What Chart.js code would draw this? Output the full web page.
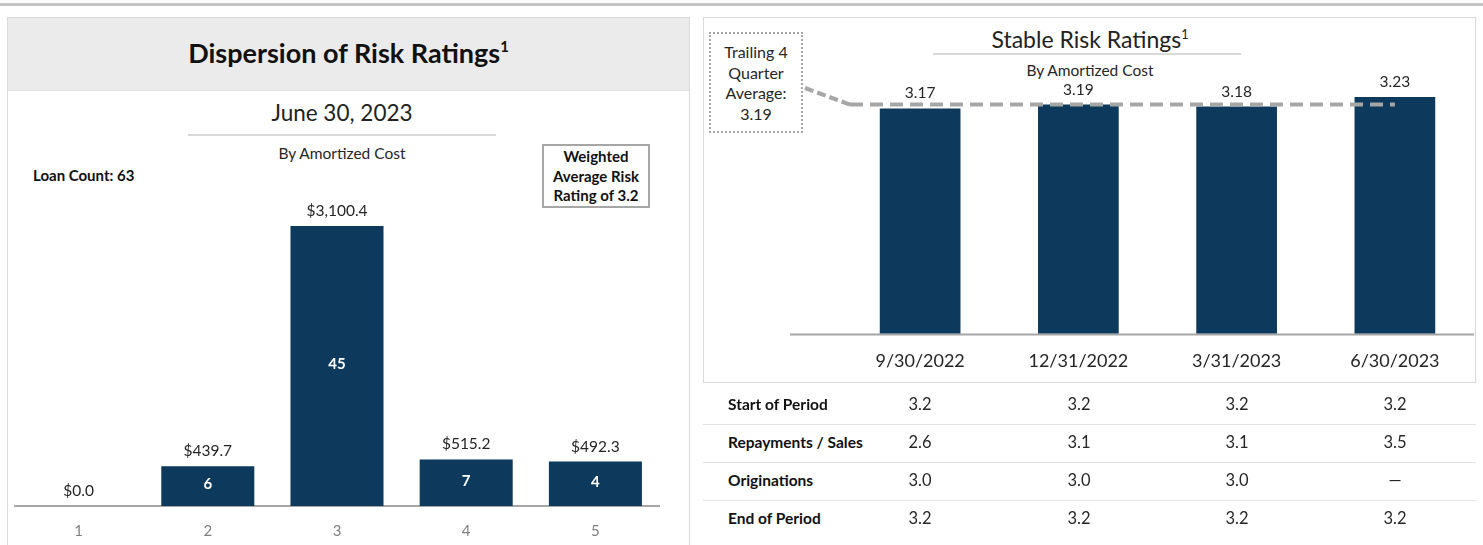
<!DOCTYPE html>
<html>
<head>
<meta charset="utf-8">
<script src="https://cdn.jsdelivr.net/npm/chart.js@4.4.0/dist/chart.umd.min.js"></script>
<style>
  html, body { margin: 0; padding: 0; background: #fff; }
  body { width: 1483px; height: 545px; position: relative; overflow: hidden;
         font-family: Lato, "Open Sans", sans-serif; color: #262626; }
  .abs { position: absolute; }
  .center { text-align: center; white-space: nowrap; }
  sup { font-size: 0.55em; vertical-align: 0; position: relative; top: -0.75em; }
  #topRule { left: 0; top: 3px; width: 1483px; height: 3px; background: #c4c4c4; }
  #leftPanel { left: 7px; top: 17px; width: 683px; height: 560px; border: 1px solid #d9d9d9; box-sizing: border-box; }
  #leftHeader { left: 8px; top: 18px; width: 681px; height: 72px; background: #ebebeb; border-bottom: 1px solid #e2e2e2; }
  #leftTitle { left: 8px; width: 681px; top: 36px; font-size: 27px; font-weight: 700; color: #111; }
  #leftDate { left: 190px; width: 304px; top: 99px; font-size: 22.5px; color: #222; }
  #leftRule { left: 188px; top: 134px; width: 308px; height: 2px; background: #d9d9d9; }
  #leftSub { left: 190px; width: 304px; top: 144px; font-size: 15.5px; }
  #loanCount { left: 33px; top: 166px; font-size: 15px; font-weight: 700; color: #111; }
  #wavgBox { left: 542px; top: 144px; width: 108px; height: 64px; border: 2px solid #a6a6a6; box-sizing: border-box;
             font-size: 15px; font-weight: 700; line-height: 19.5px; padding-top: 1px; color: #111; }
  #leftCanvasWrap { left: 14px; top: 190px; width: 646px; height: 372px; }
  #rightPanel { left: 703px; top: 17px; width: 773px; height: 366px; border: 1px solid #d9d9d9; box-sizing: border-box; }
  #rightTitle { left: 940px; width: 300px; top: 25px; font-size: 23px; color: #222; }
  #rightRule { left: 933px; top: 53px; width: 308px; height: 2px; background: #d9d9d9; }
  #rightSub { left: 940px; width: 300px; top: 61px; font-size: 15.5px; }
  #trailBox { left: 709px; top: 32px; width: 94px; height: 101px; border: 2px dotted #a6a6a6; box-sizing: border-box;
              font-size: 16px; line-height: 20.5px; padding-top: 8px; }
  #rightCanvasWrap { left: 706px; top: 45px; width: 770px; height: 354px; }
  .rowSep { position: absolute; left: 703px; width: 773px; height: 1px; background: #e3e3e3; }
  .rowLabel { position: absolute; left: 728px; font-size: 15.5px; font-weight: 700; color: #111; }
  .cell { position: absolute; width: 100px; text-align: center; font-size: 16.5px; color: #262626; }
</style>
</head>
<body>
<div id="topRule" class="abs"></div>

<div id="leftPanel" class="abs"></div>
<div id="leftHeader" class="abs"></div>
<div id="leftTitle" class="abs center">Dispersion of Risk Ratings<sup>1</sup></div>
<div id="leftDate" class="abs center">June 30, 2023</div>
<div id="leftRule" class="abs"></div>
<div id="leftSub" class="abs center">By Amortized Cost</div>
<div id="loanCount" class="abs">Loan Count: 63</div>
<div id="wavgBox" class="abs center">Weighted<br>Average Risk<br>Rating of 3.2</div>
<div id="leftCanvasWrap" class="abs"><canvas id="dispersionChart"></canvas></div>

<div id="rightPanel" class="abs"></div>
<div id="rightTitle" class="abs center">Stable Risk Ratings<sup>1</sup></div>
<div id="rightRule" class="abs"></div>
<div id="rightSub" class="abs center">By Amortized Cost</div>
<div id="trailBox" class="abs center">Trailing 4<br>Quarter<br>Average:<br><span id="trailValue"></span></div>
<div id="rightCanvasWrap" class="abs"><canvas id="stableChart"></canvas></div>
<div id="ratingTable"></div>

<script>
// Risk rating buckets (1-5), amortized cost in $ millions and loan count per bucket
const ratingCategories = ['1', '2', '3', '4', '5'];
const amortizedCost = [0.0, 439.7, 3100.4, 515.2, 492.3];
const loanCounts = [null, 6, 45, 7, 4];

// Quarterly weighted average risk rating
const quarterLabels = ['9/30/2022', '12/31/2022', '3/31/2023', '6/30/2023'];
const weightedRatings = [3.17, 3.19, 3.18, 3.23];
const trailingAverage = 3.19;

// Roll-forward table beneath the quarterly chart
const tableRowLabels = ['Start of Period', 'Repayments / Sales', 'Originations', 'End of Period'];
const startOfPeriod = [3.2, 3.2, 3.2, 3.2];
const repaymentsSales = [2.6, 3.1, 3.1, 3.5];
const originations = [3.0, 3.0, 3.0, null];
const endOfPeriod = [3.2, 3.2, 3.2, 3.2];

const NAVY = '#0d3a5c';
const FONT = 'Lato, "Open Sans", sans-serif';

document.getElementById('trailValue').textContent = trailingAverage.toFixed(2);

// Value labels above bars, optional white labels inside bars
function barLabelPlugin(id, formatTop, insideValues) {
  return {
    id,
    afterDatasetsDraw(chart) {
      const ctx = chart.ctx;
      const meta = chart.getDatasetMeta(0);
      const data = chart.data.datasets[0].data;
      ctx.save();
      ctx.textAlign = 'center';
      ctx.textBaseline = 'middle';
      meta.data.forEach((bar, i) => {
        ctx.fillStyle = '#262626';
        ctx.font = '15.5px ' + FONT;
        ctx.fillText(formatTop(data[i]), bar.x, bar.y - 15);
        if (insideValues && insideValues[i] != null) {
          ctx.fillStyle = '#ffffff';
          ctx.font = 'bold 15px ' + FONT;
          ctx.fillText(String(insideValues[i]), bar.x, (bar.y + bar.base) / 2 - 2);
        }
      });
      ctx.restore();
    }
  };
}

new Chart(document.getElementById('dispersionChart'), {
  type: 'bar',
  data: {
    labels: ratingCategories,
    datasets: [{ data: amortizedCost, backgroundColor: NAVY, borderWidth: 0,
                 categoryPercentage: 1.0, barPercentage: 0.72 }]
  },
  options: {
    responsive: true, maintainAspectRatio: false, animation: false,
    layout: { padding: { top: 0, bottom: 6, left: 0, right: 0 } },
    plugins: { legend: { display: false }, tooltip: { enabled: false } },
    scales: {
      x: {
        grid: { display: false, drawTicks: false },
        border: { display: true, color: '#a6a6a6', width: 2 },
        ticks: { color: '#7f7f7f', font: { family: FONT, size: 15 }, padding: 16 }
      },
      y: { display: false, min: 0, max: 3500 }
    }
  },
  plugins: [barLabelPlugin('dispersionLabels',
    v => '$' + v.toLocaleString('en-US', { minimumFractionDigits: 1, maximumFractionDigits: 1 }),
    loanCounts)]
});

// Baseline extension, trailing-average dashed line and its leader to the callout box
const trailingLinePlugin = {
  id: 'trailingLine',
  beforeDatasetsDraw(chart) {
    const ctx = chart.ctx;
    ctx.save();
    ctx.strokeStyle = '#a6a6a6';
    ctx.lineWidth = 2;
    ctx.beginPath();
    ctx.moveTo(84, chart.chartArea.bottom + 1);
    ctx.lineTo(chart.chartArea.right, chart.chartArea.bottom + 1);
    ctx.stroke();
    ctx.restore();
  },
  afterDatasetsDraw(chart) {
    const ctx = chart.ctx;
    const xs = chart.scales.x, ys = chart.scales.y;
    const yAvg = ys.getPixelForValue(trailingAverage);
    const xEnd = xs.getPixelForValue(quarterLabels.length - 1);
    const xStart = chart.chartArea.left + 9;
    ctx.save();
    ctx.strokeStyle = '#a6a6a6';
    ctx.lineWidth = 4;
    ctx.setLineDash([13, 7]);
    ctx.beginPath();
    ctx.moveTo(xStart, yAvg);
    ctx.lineTo(xEnd, yAvg);
    ctx.stroke();
    ctx.setLineDash([9, 4]);
    ctx.beginPath();
    ctx.moveTo(99, 43);
    ctx.lineTo(xStart, yAvg);
    ctx.stroke();
    ctx.restore();
  }
};

new Chart(document.getElementById('stableChart'), {
  type: 'bar',
  data: {
    labels: quarterLabels,
    datasets: [{ data: weightedRatings, backgroundColor: NAVY, borderWidth: 0,
                 categoryPercentage: 1.0, barPercentage: 0.51 }]
  },
  options: {
    responsive: true, maintainAspectRatio: false, animation: false,
    layout: { padding: { top: 0, bottom: 10, left: 135, right: 2 } },
    plugins: { legend: { display: false }, tooltip: { enabled: false } },
    scales: {
      x: {
        grid: { display: false, drawTicks: false },
        border: { display: false },
        ticks: { color: '#262626', font: { family: FONT, size: 18 }, padding: 17 }
      },
      y: { display: false, min: 2, max: 3.5 }
    }
  },
  plugins: [barLabelPlugin('stableLabels', v => v.toFixed(2), null), trailingLinePlugin]
});

// Roll-forward table
(function buildTable() {
  const host = document.getElementById('ratingTable');
  const rows = [startOfPeriod, repaymentsSales, originations, endOfPeriod];
  const colCenters = [920, 1079, 1237, 1395];
  const rowCenters = [405, 443, 481, 519];
  rows.forEach((vals, r) => {
    const lab = document.createElement('div');
    lab.className = 'rowLabel';
    lab.textContent = tableRowLabels[r];
    lab.style.top = (rowCenters[r] - 10) + 'px';
    host.appendChild(lab);
    vals.forEach((v, c) => {
      const cell = document.createElement('div');
      cell.className = 'cell';
      cell.textContent = v == null ? '\u2014' : v.toFixed(1);
      cell.style.left = (colCenters[c] - 50) + 'px';
      cell.style.top = (rowCenters[r] - 11) + 'px';
      host.appendChild(cell);
    });
    if (r < rows.length - 1) {
      const sep = document.createElement('div');
      sep.className = 'rowSep';
      sep.style.top = (rowCenters[r] + 19) + 'px';
      host.appendChild(sep);
    }
  });
})();
</script>
</body>
</html>
